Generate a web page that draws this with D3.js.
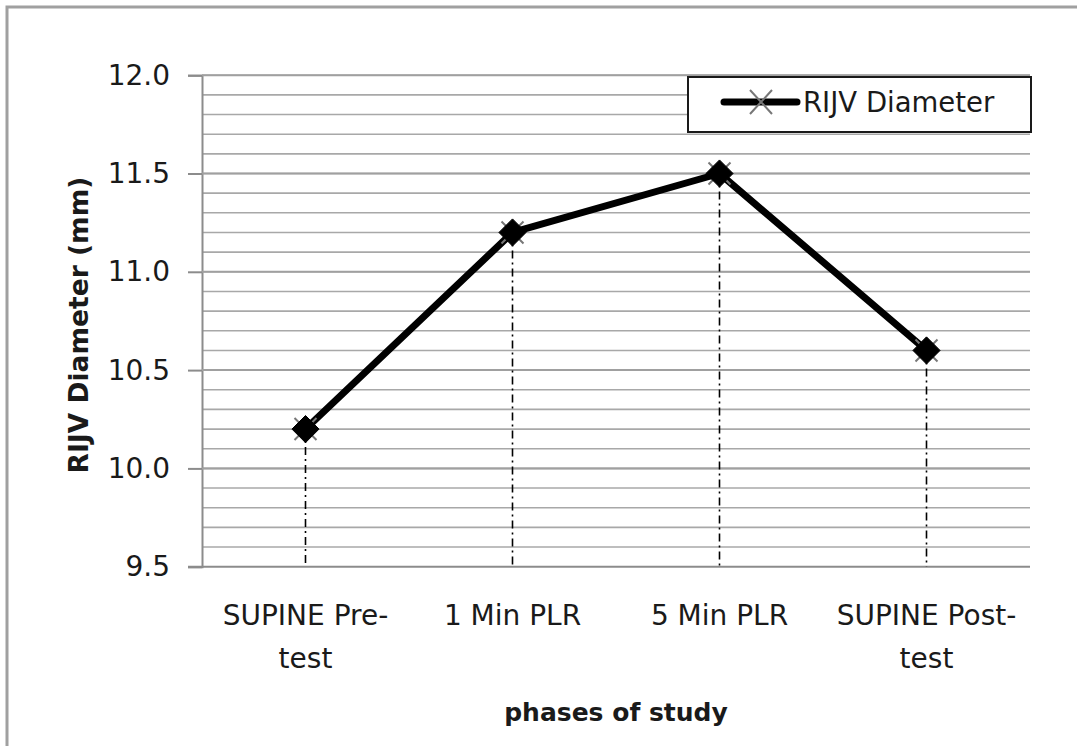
<!DOCTYPE html>
<html>
<head>
<meta charset="utf-8">
<script src="https://cdnjs.cloudflare.com/ajax/libs/d3/7.8.5/d3.min.js"></script>
<style>
  html, body { margin: 0; padding: 0; background: #fff; }
  svg { display: block; }
  text { font-family: "DejaVu Sans", Verdana, sans-serif; fill: #1a1a1a; }
</style>
</head>
<body>
<svg id="chart" width="1077" height="746"></svg>
<script>
// ---- data ----
const categories = ["SUPINE Pre-test", "1 Min PLR", "5 Min PLR", "SUPINE Post-test"];
const categoryLines = [["SUPINE Pre-", "test"], ["1 Min PLR"], ["5 Min PLR"], ["SUPINE Post-", "test"]];
const diameterValues = [10.2, 11.2, 11.5, 10.6];
const yTickValues = [9.5, 10.0, 10.5, 11.0, 11.5, 12.0];
const yMinorStep = 0.1;
const seriesName = "RIJV Diameter";
const xTitle = "phases of study";
const yTitle = "RIJV Diameter (mm)";

// ---- layout ----
const W = 1077, H = 746;
const plot = { left: 202, right: 1030, top: 75.2, bottom: 566.7 };

const svg = d3.select("#chart");

// outer border
svg.append("rect")
  .attr("x", 7).attr("y", 7)
  .attr("width", W + 10).attr("height", H + 10)
  .attr("fill", "none").attr("stroke", "#a0a0a0").attr("stroke-width", 3);

const x = d3.scalePoint().domain(categories).range([plot.left, plot.right]).padding(0.5);
const y = d3.scaleLinear().domain([9.5, 12.0]).range([plot.bottom, plot.top]);

// minor gridlines
const minorVals = d3.range(1, 26).map(i => +(9.5 + i * yMinorStep).toFixed(1));
svg.append("g").selectAll("line").data(minorVals).join("line")
  .attr("x1", plot.left).attr("x2", plot.right)
  .attr("y1", d => y(d)).attr("y2", d => y(d))
  .attr("stroke", "#a8a8a8").attr("stroke-width", 1.6);

// y axis
const yAxis = svg.append("g")
  .attr("transform", `translate(${plot.left},0)`)
  .call(d3.axisLeft(y).tickValues(yTickValues).tickFormat(d3.format(".1f")).tickSize(14).tickPadding(18));
yAxis.select(".domain").attr("stroke", "#8c8c8c").attr("stroke-width", 2);
yAxis.selectAll(".tick line").attr("stroke", "#8c8c8c").attr("stroke-width", 2);
yAxis.selectAll(".tick text")
  .attr("font-size", 28).attr("font-family", "DejaVu Sans").attr("fill", "#1a1a1a");

// major gridlines extend across
svg.append("g").selectAll("line").data(yTickValues.slice(1)).join("line")
  .attr("x1", plot.left).attr("x2", plot.right)
  .attr("y1", d => y(d)).attr("y2", d => y(d))
  .attr("stroke", "#a0a0a0").attr("stroke-width", 2);

// x axis line
svg.append("line")
  .attr("x1", plot.left - 14).attr("x2", plot.right)
  .attr("y1", plot.bottom).attr("y2", plot.bottom)
  .attr("stroke", "#8c8c8c").attr("stroke-width", 2);

// x category labels
const xl = svg.append("g");
categories.forEach((c, i) => {
  const t = xl.append("text")
    .attr("x", x(c)).attr("y", 625)
    .attr("text-anchor", "middle").attr("font-size", 28);
  categoryLines[i].forEach((ln, j) => {
    t.append("tspan").attr("x", x(c)).attr("dy", j === 0 ? 0 : 43).text(ln);
  });
});

// drop lines
svg.append("g").selectAll("line").data(diameterValues).join("line")
  .attr("x1", (d, i) => x(categories[i])).attr("x2", (d, i) => x(categories[i]))
  .attr("y1", d => y(d)).attr("y2", plot.bottom)
  .attr("stroke", "#000").attr("stroke-width", 1.6)
  .attr("stroke-dasharray", "8,4,2,4");

// series line
const line = d3.line().x((d, i) => x(categories[i])).y(d => y(d));
svg.append("path").datum(diameterValues)
  .attr("d", line).attr("fill", "none")
  .attr("stroke", "#000").attr("stroke-width", 7).attr("stroke-linejoin", "round");

// markers: gray X beneath, black diamond on top
const mk = svg.append("g").selectAll("g").data(diameterValues).join("g")
  .attr("transform", (d, i) => `translate(${x(categories[i])},${y(d)})`);
mk.append("path").attr("d", "M-11,-11L11,11M-11,11L11,-11")
  .attr("stroke", "#777").attr("stroke-width", 2);
mk.append("path").attr("d", d3.symbol(d3.symbolDiamond2, 470)())
  .attr("fill", "#000").attr("stroke", "#000").attr("stroke-width", 1);

// legend
const lg = svg.append("g");
lg.append("rect").attr("x", 688).attr("y", 77).attr("width", 343).attr("height", 55)
  .attr("fill", "#fff").attr("stroke", "#1a1a1a").attr("stroke-width", 2);
lg.append("line").attr("x1", 724).attr("x2", 797).attr("y1", 102).attr("y2", 102)
  .attr("stroke", "#000").attr("stroke-width", 7).attr("stroke-linecap", "round");
lg.append("path").attr("d", "M750,90L772,114M750,114L772,90")
  .attr("stroke", "#777").attr("stroke-width", 2);
lg.append("text").attr("x", 803).attr("y", 112).attr("font-size", 27.5).text(seriesName);

// axis titles
svg.append("text").attr("x", (plot.left + plot.right) / 2).attr("y", 721)
  .attr("text-anchor", "middle").attr("font-size", 25).attr("font-weight", "bold").text(xTitle);
svg.append("text").attr("transform", `translate(88,325) rotate(-90)`)
  .attr("text-anchor", "middle").attr("font-size", 26.5).attr("font-weight", "bold").text(yTitle);
</script>
</body>
</html>
